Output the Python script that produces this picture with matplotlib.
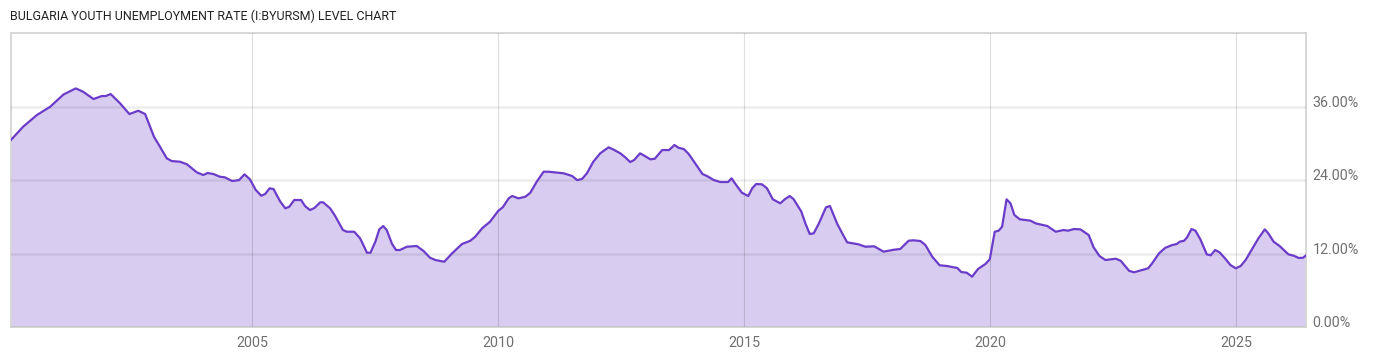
import matplotlib
matplotlib.use("Agg")

import matplotlib.pyplot as plt

# youth unemployment rate (decimal year, percent)
years = [
    2000.09, 2000.34, 2000.62, 2000.89, 2001.16, 2001.41, 2001.56, 2001.77, 2001.94, 2002.02,
    2002.12, 2002.31, 2002.50, 2002.68, 2002.82, 2003.00, 2003.11, 2003.26, 2003.36, 2003.53,
    2003.67, 2003.87, 2004.00, 2004.09, 2004.21, 2004.34, 2004.44, 2004.59, 2004.73, 2004.84,
    2004.95, 2005.07, 2005.18, 2005.26, 2005.35, 2005.43, 2005.56, 2005.67, 2005.75, 2005.85,
    2005.99, 2006.07, 2006.17, 2006.26, 2006.38, 2006.44, 2006.58, 2006.68, 2006.84, 2006.92,
    2007.07, 2007.19, 2007.33, 2007.40, 2007.50, 2007.58, 2007.66, 2007.73, 2007.84, 2007.92,
    2008.00, 2008.14, 2008.34, 2008.48, 2008.61, 2008.72, 2008.90, 2009.06, 2009.26, 2009.43,
    2009.53, 2009.67, 2009.83, 2010.00, 2010.09, 2010.21, 2010.28, 2010.41, 2010.55, 2010.65,
    2010.78, 2010.92, 2011.02, 2011.33, 2011.50, 2011.60, 2011.70, 2011.80, 2011.93, 2012.07,
    2012.24, 2012.33, 2012.48, 2012.58, 2012.68, 2012.76, 2012.88, 2012.99, 2013.09, 2013.18,
    2013.33, 2013.47, 2013.58, 2013.66, 2013.77, 2013.87, 2014.00, 2014.15, 2014.24, 2014.38,
    2014.51, 2014.67, 2014.74, 2014.82, 2014.95, 2015.08, 2015.16, 2015.24, 2015.36, 2015.46,
    2015.58, 2015.73, 2015.83, 2015.92, 2016.00, 2016.16, 2016.24, 2016.33, 2016.41, 2016.51,
    2016.66, 2016.74, 2016.89, 2016.99, 2017.09, 2017.32, 2017.46, 2017.64, 2017.83, 2018.04,
    2018.17, 2018.34, 2018.44, 2018.58, 2018.68, 2018.82, 2018.97, 2019.12, 2019.33, 2019.41,
    2019.52, 2019.63, 2019.75, 2019.90, 2019.99, 2020.09, 2020.17, 2020.24, 2020.33, 2020.41,
    2020.49, 2020.60, 2020.82, 2020.92, 2021.16, 2021.33, 2021.49, 2021.58, 2021.70, 2021.83,
    2022.00, 2022.10, 2022.22, 2022.34, 2022.55, 2022.65, 2022.82, 2022.92, 2023.09, 2023.21,
    2023.29, 2023.43, 2023.56, 2023.70, 2023.79, 2023.85, 2023.94, 2024.00, 2024.09, 2024.17,
    2024.27, 2024.40, 2024.48, 2024.57, 2024.66, 2024.77, 2024.88, 2024.99, 2025.09, 2025.19,
    2025.33, 2025.45, 2025.58, 2025.65, 2025.76, 2025.88, 2026.06, 2026.17, 2026.27, 2026.36,
    2026.41,
]
rate = [
    30.56, 32.74, 34.65, 36.00, 38.00, 39.00, 38.45, 37.26, 37.75, 37.75,
    38.07, 36.56, 34.81, 35.35, 34.81, 31.10, 29.63, 27.58, 27.13, 27.02,
    26.60, 25.29, 24.85, 25.18, 25.01, 24.57, 24.47, 23.87, 24.03, 24.96,
    24.15, 22.40, 21.47, 21.75, 22.68, 22.56, 20.60, 19.41, 19.67, 20.77,
    20.77, 19.79, 19.13, 19.46, 20.39, 20.39, 19.41, 18.20, 15.87, 15.59,
    15.59, 14.51, 12.16, 12.16, 13.96, 15.98, 16.52, 15.87, 13.58, 12.60,
    12.60, 13.14, 13.26, 12.44, 11.35, 10.97, 10.69, 12.06, 13.58, 14.12,
    14.78, 16.15, 17.22, 19.02, 19.58, 21.04, 21.42, 21.04, 21.31, 21.96,
    23.76, 25.39, 25.39, 25.13, 24.69, 24.03, 24.20, 25.13, 27.02, 28.39,
    29.37, 29.05, 28.39, 27.74, 26.97, 27.30, 28.39, 27.90, 27.41, 27.51,
    28.93, 28.93, 29.75, 29.31, 29.09, 28.28, 26.76, 25.01, 24.69, 24.03,
    23.71, 23.71, 24.31, 23.38, 21.96, 21.42, 22.68, 23.38, 23.33, 22.68,
    20.88, 20.23, 20.93, 21.42, 20.93, 18.86, 16.96, 15.22, 15.33, 16.85,
    19.58, 19.79, 16.85, 15.33, 13.86, 13.53, 13.14, 13.21, 12.33, 12.65,
    12.77, 14.12, 14.19, 14.07, 13.42, 11.51, 10.11, 9.99, 9.67, 9.01,
    8.90, 8.25, 9.50, 10.32, 11.09, 15.59, 15.76, 16.41, 20.88, 20.23,
    18.32, 17.62, 17.39, 16.96, 16.52, 15.59, 15.87, 15.76, 16.03, 15.98,
    15.05, 13.04, 11.62, 10.97, 11.18, 10.86, 9.22, 8.96, 9.34, 9.62,
    10.43, 12.06, 12.98, 13.42, 13.58, 13.96, 14.12, 14.68, 16.03, 15.76,
    14.35, 11.90, 11.74, 12.60, 12.23, 11.25, 10.16, 9.62, 9.99, 10.97,
    12.88, 14.51, 15.98, 15.33, 13.96, 13.26, 11.90, 11.67, 11.30, 11.35,
    11.67,
]

x_ticks = [2005, 2010, 2015, 2020, 2025]
y_ticks = [0, 12, 24, 36]
y_labels = ["0.00%", "12.00%", "24.00%", "36.00%"]

title = "BULGARIA YOUTH UNEMPLOYMENT RATE (I:BYURSM) LEVEL CHART"

LINE = "#6a3cc9"
FILL = "#d8cdf0"
TXT = "#6f6f6f"

plt.rcParams["font.family"] = ["Roboto", "DejaVu Sans"]

fig = plt.figure(figsize=(14, 3.57), dpi=100)
ax = fig.add_axes([0.0076, 0.0835, 0.925, 0.825])

ax.fill_between(years, rate, 0, color=FILL, linewidth=0, zorder=1)
ax.plot(years, rate, color=LINE, linewidth=1.6, zorder=3)

ax.set_xlim(2000.086, years[-1])
ax.set_ylim(0, 48.1)

ax.set_xticks(x_ticks)
ax.set_xticklabels([str(t) for t in x_ticks])
ax.set_yticks(y_ticks)
ax.set_yticklabels(y_labels)

ax.yaxis.tick_right()
ax.tick_params(axis="both", length=0, labelsize=10.3, colors=TXT)
ax.tick_params(axis="y", pad=5)
ax.tick_params(axis="x", pad=6)
plt.setp(ax.get_yticklabels(), va="baseline")

ax.set_axisbelow(False)
ax.xaxis.grid(True, color="black", alpha=0.13, linewidth=0.8, zorder=2)
ax.yaxis.grid(True, color="black", alpha=0.07, linewidth=1.8, zorder=2)

for s in ax.spines.values():
    s.set_color("#d4d4d4")
    s.set_linewidth(1.3)

fig.text(0.0071, 0.955, title, fontsize=9, color="#222222", va="center", ha="left")

fig.savefig("out.png", dpi=100, facecolor="white")
